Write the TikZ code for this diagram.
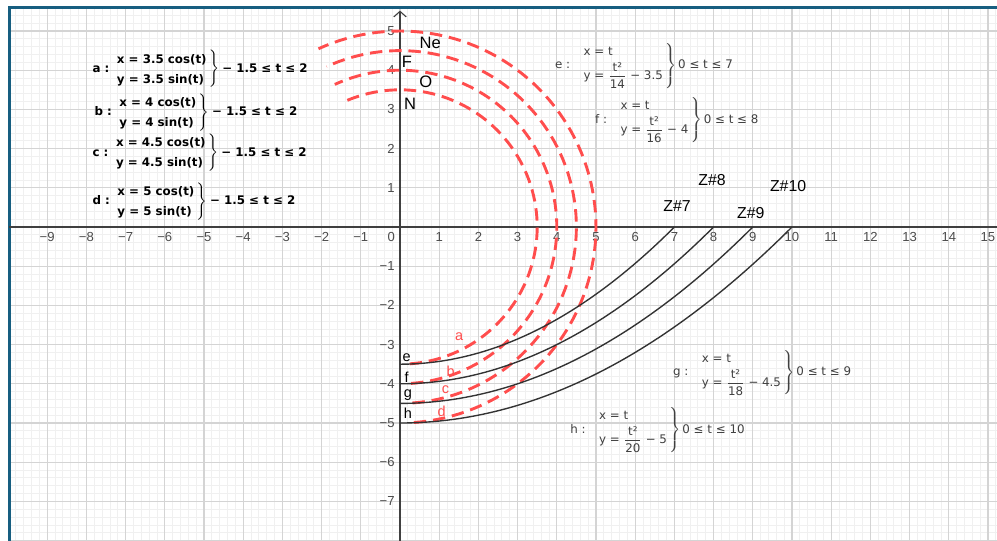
\documentclass[tikz,border=0pt]{standalone}
\usepackage{fontspec}
\setmainfont{DejaVu Sans}
\newfontfamily\labelfont{Liberation Sans}
\usepackage{amsmath}
\usetikzlibrary{arrows.meta}
\definecolor{ggbred}{RGB}{255,77,77}
\definecolor{ggbframe}{RGB}{23,94,128}
\definecolor{ggbmajor}{RGB}{212,212,212}
\definecolor{ggbminor}{RGB}{240,240,240}
\definecolor{ggbtext}{RGB}{64,64,64}

\begin{document}
\begin{tikzpicture}[x=1cm, y=1cm,
  orbit/.style={draw=ggbred, line width=2.1pt, dash pattern=on 9pt off 5pt},
  track/.style={draw=black!80, line width=1pt},
  ticklab/.style={font=\labelfont\fontsize{9.5}{10}\selectfont, text=black!70, inner sep=0pt},
  elem/.style={font=\labelfont\fontsize{12}{14}\selectfont, inner sep=0pt},
  zlab/.style={font=\labelfont\fontsize{11.5}{13}\selectfont, inner sep=0pt},
  clab/.style={font=\labelfont\fontsize{10.5}{12}\selectfont, inner sep=0pt},
  eqbold/.style={font=\fontsize{8.6}{14.5}\selectfont\bfseries, inner sep=0pt, anchor=west},
  eqthin/.style={font=\fontsize{8.6}{12}\selectfont, text=ggbtext, inner sep=0pt, anchor=west}]
  \useasboundingbox (-10.204,-8.010) rectangle (15.230,5.791);
  \clip (-10.204,-8.010) rectangle (15.230,5.791);
  \fill[white] (-10.204,-8.010) rectangle (15.230,5.791);
  % grid and frame
  \draw[ggbminor, line width=0.6pt, step=0.2] (-9.97,-8.01) grid (15.23,5.6);
  \draw[ggbmajor, line width=0.9pt, step=1] (-9.97,-8.01) grid (15.23,5.6);
  \draw[ggbframe, line width=2.2pt] (-9.97,-8.3) -- (-9.97,5.6) -- (15.5,5.6);
  % axes
  \draw[black!75, line width=0.8pt] (-9.97,0) -- (15.23,0);
  \draw[black!75, line width=0.8pt, -{Straight Barb[length=4pt, width=9pt]}] (0,-8.01) -- (0,5.52);
  \foreach \i in {1,...,15} \node[ticklab, anchor=north] (xp\i) at (\i,-0.13) {\i};
  \foreach \i in {1,...,9} \node[ticklab, anchor=north] (xn\i) at (-\i,-0.13) {−\i};
  \foreach \i in {1,...,5} \node[ticklab, anchor=east] (yp\i) at (-0.13,\i) {\i};
  \foreach \i in {1,...,7} \node[ticklab, anchor=east] (yn\i) at (-0.13,-\i) {−\i};
  \node[ticklab, anchor=north east] (o) at (-0.12,-0.13) {0};
  % curves
  \foreach \r in {3.5,4,4.5,5}
    \draw[orbit] plot[domain=-1.5:2, samples=90, variable=\t] ({\r*cos(\t r)},{\r*sin(\t r)});
  \foreach \r in {3.5,4,4.5,5}
    \draw[track] plot[domain=0:2*\r, samples=60] (\x,{\x*\x/(4*\r)-\r});
  % labels
  \node[elem] (ne) at (0.77,4.69) {Ne};
  \node[elem] (f) at (0.18,4.21) {F};
  \node[elem] (ox) at (0.66,3.70) {O};
  \node[elem] (n) at (0.26,3.14) {N};
  \node[zlab] (z7) at (7.07,0.54) {Z\#7};
  \node[zlab] (z8) at (7.96,1.20) {Z\#8};
  \node[zlab] (z9) at (8.95,0.36) {Z\#9};
  \node[zlab] (z10) at (9.90,1.05) {Z\#10};
  \node[clab] (le) at (0.17,-3.34) {e};
  \node[clab] (lf) at (0.17,-3.83) {f};
  \node[clab] (lg) at (0.20,-4.28) {g};
  \node[clab] (lh) at (0.20,-4.76) {h};
  \node[clab, text=ggbred] (la) at (1.51,-2.81) {a};
  \node[clab, text=ggbred] (lb) at (1.29,-3.67) {b};
  \node[clab, text=ggbred] (lc) at (1.16,-4.16) {c};
  \node[clab, text=ggbred] (ld) at (1.06,-4.69) {d};
  % parametric definitions
  \node[eqbold] (fa) at (-7.85,4.03) {a :\enspace$\left.\begin{array}{@{}l@{\,}}\text{x = 3.5 cos(t)}\\\text{y = 3.5 sin(t)}\end{array}\right\}$\;− 1.5 ≤ t ≤ 2};
  \node[eqbold] (fb) at (-7.80,2.93) {b :\enspace$\left.\begin{array}{@{}l@{\,}}\text{x = 4 cos(t)}\\\text{y = 4 sin(t)}\end{array}\right\}$\;− 1.5 ≤ t ≤ 2};
  \node[eqbold] (fc) at (-7.85,1.89) {c :\enspace$\left.\begin{array}{@{}l@{\,}}\text{x = 4.5 cos(t)}\\\text{y = 4.5 sin(t)}\end{array}\right\}$\;− 1.5 ≤ t ≤ 2};
  \node[eqbold] (fd) at (-7.85,0.66) {d :\enspace$\left.\begin{array}{@{}l@{\,}}\text{x = 5 cos(t)}\\\text{y = 5 sin(t)}\end{array}\right\}$\;− 1.5 ≤ t ≤ 2};
  \node[eqthin] (fe) at (3.95,4.11) {e :\quad$\left.\begin{array}{@{}l@{\,}}\text{x = t}\\[2pt]\text{y = }\dfrac{\text{t²}}{\text{14}}\text{ − 3.5}\end{array}\right\}$\,0 ≤ t ≤ 7};
  \node[eqthin] (ff) at (4.97,2.73) {f :\quad$\left.\begin{array}{@{}l@{\,}}\text{x = t}\\[2pt]\text{y = }\dfrac{\text{t²}}{\text{16}}\text{ − 4}\end{array}\right\}$\,0 ≤ t ≤ 8};
  \node[eqthin] (fg) at (6.96,-3.72) {g :\quad$\left.\begin{array}{@{}l@{\,}}\text{x = t}\\[2pt]\text{y = }\dfrac{\text{t²}}{\text{18}}\text{ − 4.5}\end{array}\right\}$\,0 ≤ t ≤ 9};
  \node[eqthin] (fh) at (4.34,-5.18) {h :\quad$\left.\begin{array}{@{}l@{\,}}\text{x = t}\\[2pt]\text{y = }\dfrac{\text{t²}}{\text{20}}\text{ − 5}\end{array}\right\}$\,0 ≤ t ≤ 10};
\end{tikzpicture}
\end{document}
